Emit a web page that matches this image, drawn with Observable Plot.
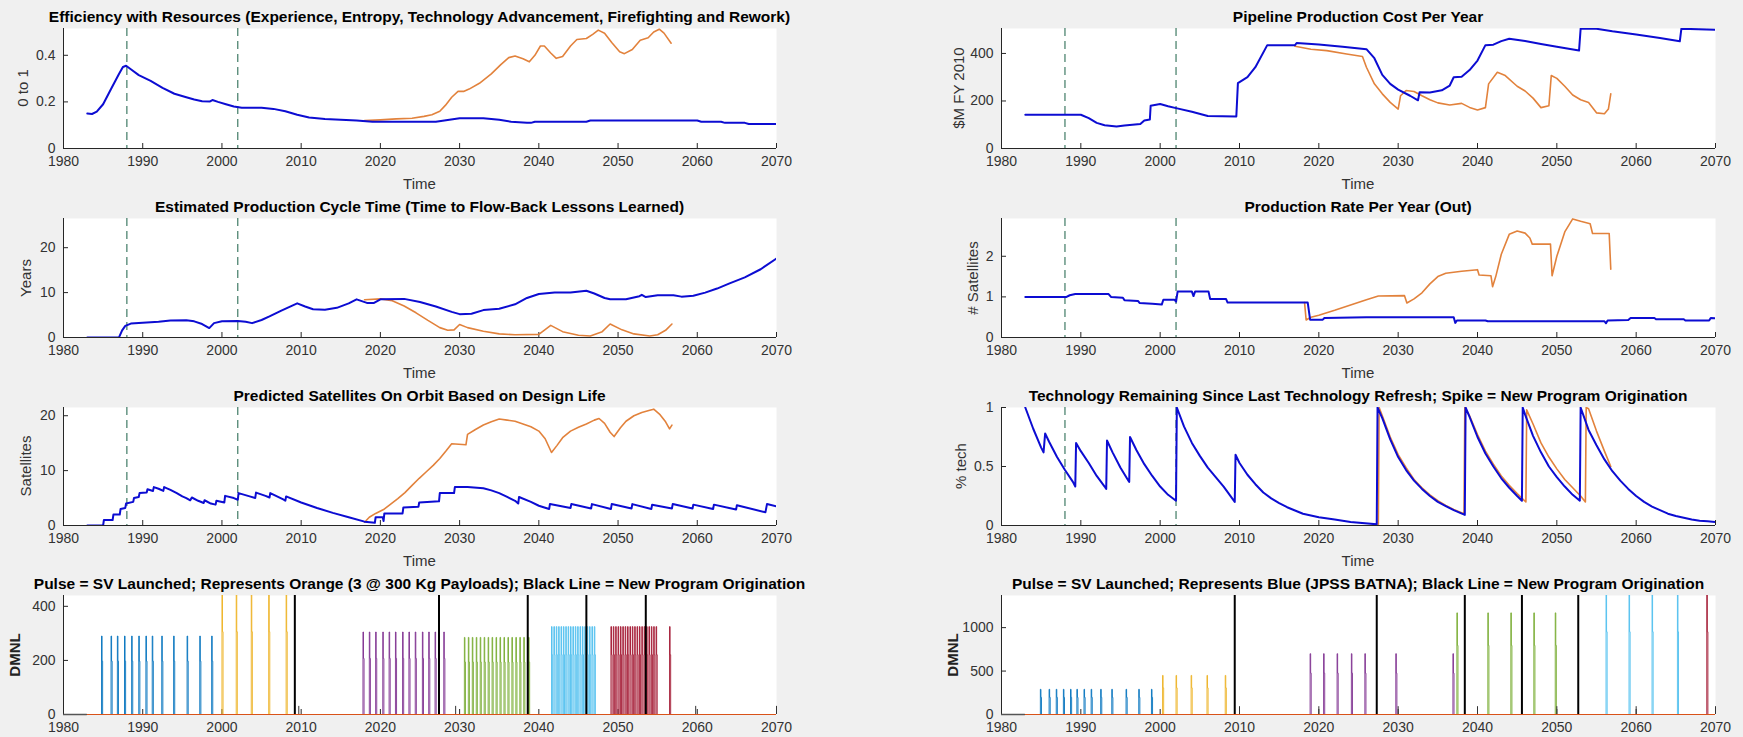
<!DOCTYPE html>
<html>
<head>
<meta charset="utf-8">
<script src="https://cdn.jsdelivr.net/npm/d3@7"></script>
<script src="https://cdn.jsdelivr.net/npm/@observablehq/plot@0.6"></script>
<style>
  html, body { margin: 0; padding: 0; background: #f0f0f0; }
  #fig { position: relative; width: 1743px; height: 737px; background: #f0f0f0; overflow: hidden;
         font-family: "Liberation Sans", Arial, Helvetica, sans-serif; color: #262626; }
  .ttl { position: absolute; font-weight: bold; font-size: 15.5px; color: #000; white-space: nowrap;
         transform: translate(-50%, -50%); line-height: 1; }
  .xl { position: absolute; font-size: 15px; color: #333; white-space: nowrap; transform: translate(-50%, -50%); line-height: 1; }
  .yl { position: absolute; font-size: 15px; color: #333; white-space: nowrap; transform: translate(-50%, -50%) rotate(-90deg); line-height: 1; }
</style>
</head>
<body>
<div id="fig"></div>
<script>
// ---------------- DATA ----------------
const X_TICKS = [1980, 1990, 2000, 2010, 2020, 2030, 2040, 2050, 2060, 2070];
const MARKER_YEARS = [1988, 2002];

// Panel 1: Efficiency with Resources
const effBlue = [[1983,0.150],[1983.6,0.148],[1984.2,0.158],[1985,0.19],[1986,0.255],[1987,0.32],[1987.5,0.35],[1987.9,0.355],[1988.5,0.34],[1989.5,0.315],[1991,0.29],[1992.5,0.26],[1994,0.235],[1995.5,0.22],[1996.5,0.21],[1997.5,0.203],[1998.5,0.202],[1998.8,0.208],[1999.5,0.2],[2000.5,0.19],[2001.5,0.18],[2002.5,0.175],[2005,0.175],[2006.5,0.17],[2008,0.16],[2009.5,0.145],[2011,0.133],[2013,0.127],[2015,0.123],[2017,0.12],[2019,0.115],[2027,0.115],[2028.5,0.122],[2030,0.13],[2033,0.13],[2035,0.123],[2036.5,0.115],[2038.5,0.11],[2039,0.11],[2039.5,0.115],[2046,0.115],[2046.5,0.12],[2060,0.12],[2060.5,0.115],[2063,0.115],[2063.5,0.11],[2066,0.11],[2066.5,0.105],[2070,0.105]];
const effOrange = [[2018,0.12],[2020,0.123],[2022,0.127],[2024,0.13],[2025.5,0.138],[2026.5,0.145],[2027.5,0.16],[2028.2,0.185],[2029,0.22],[2029.8,0.245],[2030.5,0.245],[2031.2,0.255],[2032.5,0.28],[2034,0.32],[2035.2,0.36],[2036.2,0.39],[2037,0.397],[2038,0.385],[2038.8,0.372],[2039.5,0.4],[2040.2,0.44],[2040.7,0.44],[2041.5,0.41],[2042.2,0.387],[2043,0.395],[2044,0.44],[2044.8,0.468],[2046,0.472],[2046.8,0.49],[2047.5,0.508],[2048.3,0.495],[2049.2,0.455],[2050.2,0.415],[2050.8,0.407],[2051.8,0.425],[2052.8,0.465],[2053.8,0.475],[2054.5,0.5],[2055.2,0.512],[2055.8,0.495],[2056.7,0.452]];

// Panel 2: Pipeline Production Cost Per Year
const costBlue = [[1983,142],[1990,142],[1991,128],[1992,108],[1993,98],[1994.5,93],[1995.5,97],[1996.5,100],[1997.5,103],[1998,118],[1998.7,122],[1998.8,180],[2000,187],[2001,178],[2002,170],[2004,155],[2006,137],[2009.6,135],[2009.8,275],[2011,300],[2012,342],[2013.5,435],[2017,435],[2017.2,444],[2020,438],[2023,428],[2026,418],[2027,380],[2028,310],[2029,272],[2030,248],[2031.5,222],[2032.5,203],[2032.7,237],[2034,236],[2035.5,245],[2036.5,265],[2037,300],[2038,302],[2039,330],[2040,370],[2041,435],[2042,437],[2043,452],[2044,462],[2046,452],[2048,440],[2050,428],[2052.8,412],[2053,504],[2055,504],[2057,493],[2060,480],[2063,465],[2065.5,451],[2065.7,504],[2070,500]];
const costOrange = [[2017,430],[2019,418],[2021,412],[2023.5,398],[2025.5,387],[2026,342],[2027,272],[2028,230],[2029,194],[2030,166],[2030.3,222],[2031,244],[2032,240],[2033,222],[2034,205],[2035,192],[2036.5,183],[2038,190],[2039,173],[2040,162],[2041,172],[2041.4,272],[2042.5,321],[2043.5,307],[2045,262],[2046,242],[2047,212],[2048,172],[2049,180],[2049.3,307],[2050,295],[2051,262],[2052,225],[2053,205],[2054,194],[2055,150],[2056,146],[2056.5,166],[2056.8,230]];

// Panel 3: Estimated Production Cycle Time
const cycleBlue = [[1983,0],[1987,0],[1987.4,1.6],[1987.8,2.6],[1988.5,3.1],[1990,3.3],[1992,3.5],[1993.5,3.8],[1995.5,3.85],[1996.5,3.6],[1997.5,3.0],[1998.4,2.1],[1999,3.2],[2000,3.6],[2002,3.7],[2003,3.5],[2003.8,3.2],[2005,3.9],[2006,4.7],[2007.5,6.0],[2009.5,7.6],[2010.5,6.9],[2011.5,6.3],[2013,6.2],[2014.5,6.6],[2016,7.6],[2017,8.5],[2018.3,7.7],[2019.2,7.7],[2020,8.5],[2023,8.6],[2025,7.9],[2027,6.9],[2029,5.7],[2030,5.2],[2031.5,5.3],[2033,6.1],[2035,6.4],[2037,7.4],[2038.5,8.8],[2040,9.7],[2042,10],[2044,10],[2046,10.4],[2047,9.8],[2048.3,8.8],[2049,8.5],[2051,8.5],[2052.7,9.2],[2053,9.5],[2053.5,9.0],[2055,9.4],[2057,9.4],[2058,9.1],[2059.5,9.3],[2061,10],[2062.5,10.9],[2064,12],[2066,13.4],[2068,15.2],[2070,17.6]];
const cycleOrange = [[2018,8.4],[2020,8.6],[2021.5,8.2],[2023,7.0],[2024.5,5.5],[2026,3.8],[2027.5,2.2],[2028.5,1.6],[2029.3,1.7],[2030,2.9],[2031,2.2],[2033,1.4],[2035,0.8],[2037,0.6],[2040,0.7],[2041.5,2.7],[2043,1.3],[2045,0.5],[2046.5,0.35],[2048,1.3],[2049,3.0],[2050.5,1.7],[2052,0.8],[2054,0.35],[2055,0.6],[2056,1.6],[2056.8,3.0]];

// Panel 4: Production Rate Per Year (Out)
const rateBlue = [[1983,1.0],[1988.2,1.0],[1988.6,1.04],[1989.3,1.07],[1993.5,1.07],[1993.8,1.0],[1995.3,0.98],[1995.5,0.92],[1997.2,0.9],[1997.4,0.85],[1999,0.83],[2000.2,0.81],[2000.4,0.93],[2001.8,0.93],[2002,0.88],[2002.2,1.13],[2004,1.13],[2004.2,1.02],[2004.4,1.13],[2006.1,1.13],[2006.3,0.95],[2008.3,0.95],[2008.5,0.86],[2018.6,0.86],[2018.9,0.44],[2020.5,0.44],[2020.7,0.48],[2026,0.5],[2037,0.5],[2037.2,0.36],[2037.4,0.42],[2041,0.42],[2041.3,0.4],[2056,0.4],[2056.2,0.35],[2056.4,0.42],[2059,0.43],[2059.3,0.48],[2062.3,0.48],[2062.5,0.45],[2066,0.45],[2066.2,0.42],[2069.2,0.42],[2069.4,0.48],[2070,0.47]];
const rateOrange = [[2018.2,0.86],[2018.4,0.43],[2019,0.5],[2020,0.55],[2022,0.67],[2024,0.8],[2026,0.93],[2027.5,1.02],[2030.8,1.03],[2031.1,0.85],[2032,0.95],[2033,1.1],[2034,1.32],[2035,1.5],[2036,1.58],[2038,1.63],[2040,1.67],[2040.2,1.54],[2041.7,1.52],[2041.9,1.25],[2042.3,1.5],[2043,2.05],[2044,2.54],[2045,2.62],[2046,2.57],[2046.6,2.45],[2046.9,2.3],[2049.2,2.3],[2049.4,1.52],[2050,2.0],[2051,2.6],[2052,2.92],[2053,2.86],[2054.2,2.8],[2054.5,2.56],[2056.6,2.56],[2056.8,1.68]];

// Panel 5: Predicted Satellites On Orbit
const orbitBlue = [[1983,0],[1985,0],[1985.1,1],[1986.2,1],[1986.3,2],[1987.1,2],[1987.2,3],[1987.8,3.2],[1987.9,4],[1988.8,4.3],[1988.9,5],[1989.5,5.2],[1989.6,5.9],[1990.5,6],[1990.6,6.6],[1991.3,6.3],[1991.4,7],[1992,6.7],[1992.6,6.3],[1992.7,7],[1993.5,6.5],[1994.3,5.9],[1995,5.3],[1995.5,5],[1996,4.6],[1996.2,5.1],[1997,4.5],[1997.7,4.1],[1997.8,4.6],[1998.6,4],[1999.2,3.8],[1999.3,4.5],[2000.3,4.2],[2000.4,5.4],[2001.5,5],[2002,4.7],[2002.1,5.9],[2003.5,5.3],[2004.2,5],[2004.3,6],[2005.5,5.4],[2006,5.1],[2006.1,5.9],[2007.8,4.7],[2008,4.5],[2008.1,5.3],[2010,4.2],[2012,3.2],[2014,2.3],[2016,1.5],[2018,0.7],[2019.3,0.5],[2019.4,1.5],[2020.3,1.5],[2020.4,0.8],[2020.5,2.2],[2022.8,2.2],[2022.9,3.3],[2024.8,3.4],[2024.9,4.2],[2027.4,4.4],[2027.5,5.9],[2029.3,5.9],[2029.4,7],[2031,7],[2033,6.8],[2034,6.4],[2035,5.9],[2036,5.2],[2037,4.5],[2037.4,4],[2037.5,5.2],[2039,4.3],[2040,3.6],[2041.3,3],[2041.4,3.9],[2044,3.2],[2044.1,3.9],[2046.6,3.1],[2046.7,3.9],[2049.1,3.0],[2049.2,3.9],[2051.7,3.1],[2051.8,3.9],[2054.2,3.0],[2054.3,3.8],[2056.8,3.1],[2056.9,3.9],[2059.4,3.1],[2059.5,3.8],[2062,3.0],[2062.1,3.8],[2064.9,2.9],[2065,3.7],[2068.6,2.4],[2068.8,3.9],[2070,3.5]];
const orbitOrange = [[2018,0.6],[2018.6,1.5],[2019.4,2.2],[2020.4,2.9],[2021.3,3.9],[2022.2,4.9],[2023.1,6],[2024,7.3],[2024.9,8.6],[2025.8,9.8],[2026.7,11],[2027.5,12.2],[2028.3,13.6],[2029,14.9],[2030.8,14.7],[2031,16.6],[2032,17.5],[2033,18.3],[2034,18.9],[2035,19.4],[2036,19.2],[2037,19],[2038,18.5],[2039,18],[2040,17.2],[2040.8,15.8],[2041.6,13.3],[2042.3,14.6],[2043,16],[2044,17.2],[2045,17.9],[2046,18.5],[2047,19.2],[2047.6,19.5],[2048.3,18.6],[2049,17],[2049.5,16.2],[2050.3,17.8],[2051,19],[2052,20],[2053,20.6],[2054,21],[2054.5,21.2],[2055.3,20.2],[2056,18.9],[2056.5,17.6],[2056.8,18.3]];

// Panel 6: Technology Remaining Since Last Technology Refresh
const techBlue = [[1983,1.0],[1984,0.82],[1985,0.66],[1985.3,0.62],[1985.5,0.78],[1986,0.71],[1987,0.58],[1988,0.47],[1989,0.37],[1989.3,0.33],[1989.4,0.70],[1990,0.63],[1991,0.53],[1992,0.42],[1993,0.33],[1993.2,0.31],[1993.3,0.72],[1994,0.62],[1995,0.49],[1996,0.38],[1996.1,0.37],[1996.2,0.75],[1997,0.64],[1998,0.52],[1999,0.42],[2000,0.33],[2001,0.26],[2002,0.21],[2002.1,1.0],[2003,0.84],[2004,0.70],[2005,0.59],[2006,0.49],[2007,0.41],[2008,0.33],[2009.4,0.2],[2009.5,0.6],[2010,0.53],[2011,0.43],[2012,0.35],[2013,0.28],[2014,0.23],[2015,0.19],[2016,0.155],[2018,0.10],[2020,0.07],[2022,0.05],[2024,0.03],[2027.3,0.01],[2027.4,1.0],[2028,0.91],[2029,0.73],[2030,0.58],[2031,0.47],[2032,0.38],[2033,0.31],[2034,0.25],[2035,0.2],[2036,0.165],[2037,0.13],[2038.4,0.09],[2038.5,1.0],[2039,0.92],[2040,0.75],[2041,0.61],[2042,0.5],[2043,0.4],[2044,0.32],[2045,0.25],[2045.6,0.21],[2045.7,1.0],[2046,0.94],[2047,0.76],[2048,0.62],[2049,0.5],[2050,0.41],[2051,0.33],[2052,0.26],[2052.9,0.21],[2053,1.0],[2054,0.81],[2055,0.68],[2056,0.56],[2057,0.46],[2058,0.38],[2059,0.31],[2060,0.25],[2061,0.2],[2062,0.16],[2063,0.13],[2064,0.1],[2065,0.08],[2066,0.065],[2067,0.05],[2068,0.04],[2069,0.035],[2070,0.03]];
const techOrange = [[2027.5,0.0],[2027.6,1.0],[2028,0.93],[2029,0.75],[2030,0.6],[2031,0.49],[2032,0.39],[2033,0.32],[2034,0.26],[2035,0.21],[2036,0.17],[2037,0.135],[2038.3,0.1],[2038.4,1.0],[2039,0.93],[2040,0.77],[2041,0.63],[2042,0.52],[2043,0.42],[2044,0.34],[2045,0.27],[2046.1,0.2],[2046.2,0.98],[2047,0.86],[2048,0.7],[2049,0.58],[2050,0.48],[2051,0.39],[2052,0.32],[2053,0.25],[2053.6,0.2],[2053.7,1.0],[2054,0.99],[2055,0.8],[2056,0.63],[2056.8,0.5]];

// Panel 7: pulses (Orange, 3 @ 300 Kg)
const orangePulseBlue = [1984.8,1986.0,1986.8,1987.7,1988.6,1989.5,1990.4,1991.2,1992.4,1993.9,1995.6,1997.2,1998.7];
const orangePulseYellow = [2000.0,2001.8,2003.7,2005.9,2008.1];
const orangePulsePurple = [2017.8,2018.6,2019.4,2020.3,2021.1,2021.9,2022.8,2023.6,2024.4,2025.3,2026.1,2026.9,2028.0];
const orangePulseGreen = [2030.6,2031.1,2031.6,2032.1,2032.6,2033.1,2033.6,2034.1,2034.6,2035.1,2035.6,2036.1,2036.6,2037.1,2037.6,2038.1,2038.7];
const orangePulseCyan = [2041.6,2041.9,2042.2,2042.5,2042.8,2043.1,2043.4,2043.7,2044.0,2044.3,2044.6,2044.9,2045.2,2045.5,2045.8,2046.1,2046.4,2046.7,2047.0];
const orangePulseRed = [2049.1,2049.4,2049.7,2050.0,2050.3,2050.6,2050.9,2051.2,2051.5,2051.8,2052.1,2052.4,2052.7,2053.0,2053.3,2053.6,2053.9,2054.2,2054.5,2054.8,2056.5];
const orangeOrigins = [2009.2,2027.4,2038.6,2046.0,2053.5];
const orangeStubs = [2009.7,2029.5,2059.8,2070];
const orangeHeights = [290, 450, 305, 285, 325, 325]; // blue, yellow, purple, green, cyan, red
const orangeStubHeight = 30;

// Panel 8: pulses (Blue, JPSS BATNA)
const bluePulseBlue = [1984.9,1986.0,1986.9,1987.8,1988.7,1989.5,1990.4,1991.3,1992.5,1993.9,1995.7,1997.3,1998.9];
const bluePulseYellow = [2000.3,2002.0,2003.9,2005.9,2008.2];
const bluePulsePurple = [2018.9,2020.6,2022.3,2024.1,2025.8,2029.7,2036.9];
const bluePulseGreen = [2037.4,2041.3,2044.2,2047.1,2049.8];
const bluePulseCyan = [2056.2,2059.1,2062.0,2065.2];
const bluePulseRed = [2068.9];
const blueOrigins = [2009.4,2027.3,2038.4,2045.6,2052.7];
const blueStubs = [2010,2020,2030,2040,2050,2060,2070];
const blueHeights = [290, 450, 700, 1170, 1400, 1400];
const blueStubHeight = 90;

// ---------------- STYLE / LAYOUT ----------------
const FONT = '"Liberation Sans", Arial, Helvetica, sans-serif';
const AX = "#262626";
const BLUE = "#0c0cd2";
const ORANGE = "#e2823c";
const DASH = "#2f6f57";
const PULSE_COLORS = ["#0072bd", "#edb120", "#7e2f8e", "#77ac30", "#4dbeee", "#a2142f"];
const BASE_RED = "#d95319";

const COLS = [
  {svgLeft: 0, width: 800, left: 63, right: 776},
  {svgLeft: 880, width: 863, left: 1001, right: 1715}
];
const ROWS = [
  {top: 28, bottom: 148},
  {top: 218, bottom: 337},
  {top: 407, bottom: 525},
  {top: 595, bottom: 714}
];

const fig = document.getElementById("fig");

function addDiv(cls, text, x, y, extra) {
  const d = document.createElement("div");
  d.className = cls;
  d.textContent = text;
  d.style.left = x + "px";
  d.style.top = y + "px";
  if (extra) Object.assign(d.style, extra);
  fig.appendChild(d);
}

function seriesLine(data, stroke, w) {
  return Plot.line(data, {x: d => d[0], y: d => d[1], stroke, strokeWidth: w, clip: true});
}

function pulseMarks(groups, heights) {
  const pts = [];
  groups.forEach((times, gi) => {
    times.forEach((t, k) => {
      const h = heights[gi];
      const id = gi + "-" + k;
      pts.push({x: t, y: 0, id, g: gi});
      pts.push({x: t, y: h, id, g: gi});
      pts.push({x: t + 0.07, y: h, id, g: gi});
      pts.push({x: t + 0.07, y: h * 0.68, id, g: gi});
      pts.push({x: t + 0.14, y: h * 0.68, id, g: gi});
      pts.push({x: t + 0.14, y: 0, id, g: gi});
    });
  });
  return Plot.line(pts, {x: "x", y: "y", z: "id", stroke: d => PULSE_COLORS[d.g], strokeWidth: 0.9, clip: true});
}

function panel({col, row, title, ylabel, ylabelX, ylabelBold, yDomain, yTicks, marks, dashed, timeLabel}) {
  const c = COLS[col], r = ROWS[row];
  const mt = 4, mb = 30;
  const plotH = r.bottom - r.top, plotW = c.right - c.left;
  const allMarks = [
    Plot.frame({fill: "white", stroke: null}),
    Plot.ruleY([yDomain[0]], {stroke: AX, strokeWidth: 1}),
    Plot.ruleX([1980], {stroke: AX, strokeWidth: 1}),
    Plot.tickX(X_TICKS, {x: d => d, insetTop: plotH - 5, stroke: AX}),
    Plot.tickY(yTicks, {y: d => d, insetRight: plotW - 5, stroke: AX}),
    Plot.axisX(X_TICKS, {tickSize: 0, tickPadding: 8, tickFormat: d => String(d), label: null}),
    Plot.axisY(yTicks, {tickSize: 0, tickPadding: 8, tickFormat: d => String(d), label: null}),
  ];
  if (dashed) allMarks.push(Plot.ruleX(MARKER_YEARS, {x: d => d, stroke: DASH, strokeWidth: 1.1, strokeDasharray: "8,5"}));
  allMarks.push(...marks);
  const svg = Plot.plot({
    width: c.width, height: plotH + mt + mb,
    marginLeft: c.left - c.svgLeft, marginRight: c.svgLeft + c.width - c.right,
    marginTop: mt, marginBottom: mb,
    style: {background: "transparent", fontFamily: FONT, fontSize: "14px", color: "#333", overflow: "visible"},
    x: {domain: [1980, 2070]},
    y: {domain: yDomain},
    marks: allMarks
  });
  svg.style.position = "absolute";
  svg.style.left = c.svgLeft + "px";
  svg.style.top = (r.top - mt) + "px";
  svg.style.maxWidth = "none";
  fig.appendChild(svg);
  const cx = (c.left + c.right) / 2;
  addDiv("ttl", title, cx, r.top - 11);
  if (timeLabel) addDiv("xl", "Time", cx, r.bottom + 35);
  addDiv("yl", ylabel, ylabelX, (r.top + r.bottom) / 2, ylabelBold ? {fontWeight: "bold", color: "#222"} : null);
}

// Row 1
panel({col: 0, row: 0, title: "Efficiency with Resources (Experience, Entropy, Technology Advancement, Firefighting and Rework)",
  ylabel: "0 to 1", ylabelX: 22, yDomain: [0, 0.515], yTicks: [0, 0.2, 0.4], dashed: true, timeLabel: true,
  marks: [seriesLine(effOrange, ORANGE, 1.6), seriesLine(effBlue, BLUE, 2)]});
panel({col: 1, row: 0, title: "Pipeline Production Cost Per Year",
  ylabel: "$M FY 2010", ylabelX: 958, yDomain: [0, 505], yTicks: [0, 200, 400], dashed: true, timeLabel: true,
  marks: [seriesLine(costOrange, ORANGE, 1.6), seriesLine(costBlue, BLUE, 2)]});
// Row 2
panel({col: 0, row: 1, title: "Estimated Production Cycle Time (Time to Flow-Back Lessons Learned)",
  ylabel: "Years", ylabelX: 25, yDomain: [0, 26.5], yTicks: [0, 10, 20], dashed: true, timeLabel: true,
  marks: [seriesLine(cycleOrange, ORANGE, 1.6), seriesLine(cycleBlue, BLUE, 2)]});
panel({col: 1, row: 1, title: "Production Rate Per Year (Out)",
  ylabel: "# Satellites", ylabelX: 972, yDomain: [0, 2.93], yTicks: [0, 1, 2], dashed: true, timeLabel: true,
  marks: [seriesLine(rateOrange, ORANGE, 1.6), seriesLine(rateBlue, BLUE, 2)]});
// Row 3
panel({col: 0, row: 2, title: "Predicted Satellites On Orbit Based on Design Life",
  ylabel: "Satellites", ylabelX: 25, yDomain: [0, 21.5], yTicks: [0, 10, 20], dashed: true, timeLabel: true,
  marks: [seriesLine(orbitOrange, ORANGE, 1.6), seriesLine(orbitBlue, BLUE, 2)]});
panel({col: 1, row: 2, title: "Technology Remaining Since Last Technology Refresh; Spike = New Program Origination",
  ylabel: "% tech", ylabelX: 960, yDomain: [0, 1], yTicks: [0, 0.5, 1], dashed: true, timeLabel: true,
  marks: [seriesLine(techOrange, ORANGE, 1.6), seriesLine(techBlue, BLUE, 2)]});
// Row 4
panel({col: 0, row: 3, title: "Pulse = SV Launched; Represents Orange (3 @ 300 Kg Payloads); Black Line = New Program Origination",
  ylabel: "DMNL", ylabelX: 14, ylabelBold: true, yDomain: [0, 440], yTicks: [0, 200, 400], dashed: false, timeLabel: false,
  marks: [
    Plot.ruleY([0], {x1: 1980, x2: 1983, stroke: "#555", strokeWidth: 1.5}),
    pulseMarks([orangePulseBlue, orangePulseYellow, orangePulsePurple, orangePulseGreen, orangePulseCyan, orangePulseRed], orangeHeights),
    Plot.ruleX(orangeStubs, {x: d => d, y1: 0, y2: orangeStubHeight, stroke: "#333", strokeWidth: 1}),
    Plot.ruleX(orangeOrigins, {x: d => d, stroke: "#000", strokeWidth: 2}),
    Plot.ruleY([0], {x1: 1983, x2: 2070, stroke: BASE_RED, strokeWidth: 1.2})
  ]});
panel({col: 1, row: 3, title: "Pulse = SV Launched; Represents Blue (JPSS BATNA); Black Line = New Program Origination",
  ylabel: "DMNL", ylabelX: 952, ylabelBold: true, yDomain: [0, 1370], yTicks: [0, 500, 1000], dashed: false, timeLabel: false,
  marks: [
    Plot.ruleY([0], {x1: 1980, x2: 1983, stroke: "#555", strokeWidth: 1.5}),
    pulseMarks([bluePulseBlue, bluePulseYellow, bluePulsePurple, bluePulseGreen, bluePulseCyan, bluePulseRed], blueHeights),
    Plot.ruleX(blueStubs, {x: d => d, y1: 0, y2: blueStubHeight, stroke: "#333", strokeWidth: 1}),
    Plot.ruleX(blueOrigins, {x: d => d, stroke: "#000", strokeWidth: 2}),
    Plot.ruleY([0], {x1: 1983, x2: 2070, stroke: BASE_RED, strokeWidth: 1.2})
  ]});
</script>
</body>
</html>
